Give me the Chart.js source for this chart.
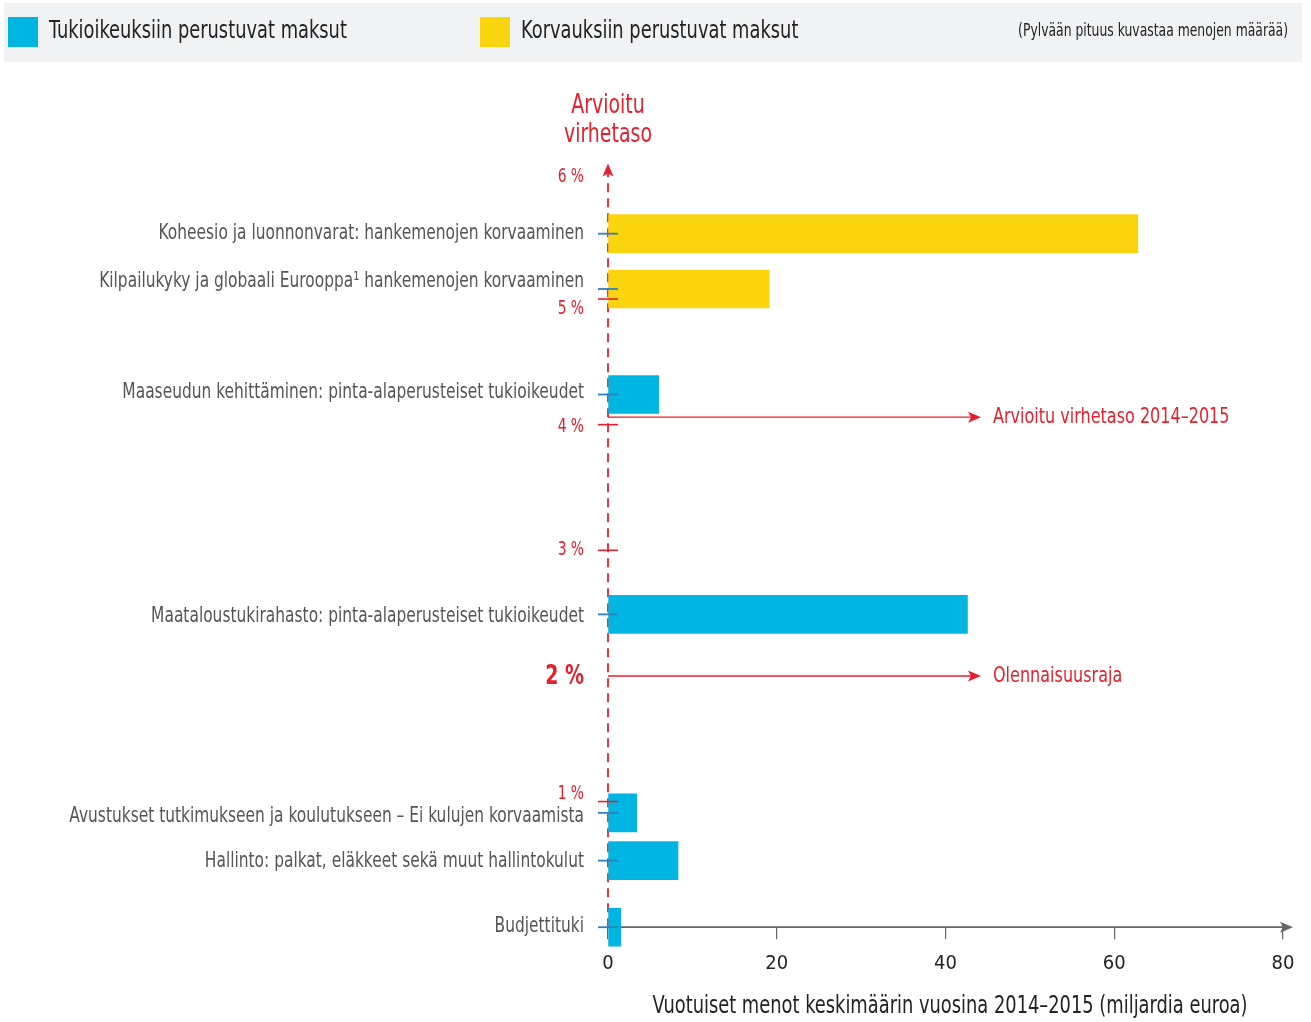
<!DOCTYPE html>
<html>
<head>
<meta charset="utf-8">
<script src="https://cdn.jsdelivr.net/npm/chart.js@4.4.0/dist/chart.umd.min.js"></script>
<style>
  html, body { margin: 0; padding: 0; background: #fff; }
  #wrap { position: relative; width: 1311px; height: 1022px; }
</style>
</head>
<body>
<div id="wrap"><canvas id="chart" width="1311" height="1022"></canvas></div>
<script>
/* DATA */
const categories = [
  "Koheesio ja luonnonvarat: hankemenojen korvaaminen",
  "Kilpailukyky ja globaali Eurooppa¹ hankemenojen korvaaminen",
  "Maaseudun kehittäminen: pinta-alaperusteiset tukioikeudet",
  "Maataloustukirahasto: pinta-alaperusteiset tukioikeudet",
  "Avustukset tutkimukseen ja koulutukseen – Ei kulujen korvaamista",
  "Hallinto: palkat, eläkkeet sekä muut hallintokulut",
  "Budjettituki"
];
const spending = [62.8, 19.1, 6.0, 42.6, 3.4, 8.3, 1.5];   // mrd euroa / vuosi
const errorRate = [5.52, 5.08, 4.24, 2.49, 0.91, 0.53, 0]; // %
const paymentType = ["korvaus", "korvaus", "tuki", "tuki", "tuki", "tuki", "tuki"];
const legendLabels = ["Tukioikeuksiin perustuvat maksut", "Korvauksiin perustuvat maksut"];
const percentTicks = [6, 5, 4, 3, 2, 1];
const xTicks = [0, 20, 40, 60, 80];
const estimatedRate = 4.06;   // arvioitu virhetaso 2014–2015
const materialityRate = 2;    // olennaisuusraja

/* STYLE */
const FONT = '"DejaVu Sans Condensed", "DejaVu Sans", sans-serif';
const SX = 0.81; // squeeze text horizontally to look like a condensed face
const BLUE = "#00b5e2";
const YELLOW = "#f9d40f";
const RED = "#e5202e";
const TICKBLUE = "#2f7fc1";
const GREY = "#555";
// small vertical nudges so labels don't collide (pixels)
const labelNudge = [0, -7, -2, 2, 4, 1, -1];
const percentNudge = { 6: 4, 5: 10, 4: 2, 3: 0, 2: 1, 1: -8 };

function text(ctx, str, x, y, size, color, align, bold){
  ctx.save();
  ctx.font = (bold ? "bold " : "") + size + "px " + FONT;
  ctx.fillStyle = color;
  ctx.textAlign = align || "left";
  ctx.textBaseline = "middle";
  ctx.translate(x, y);
  ctx.scale(SX, 1);
  ctx.fillText(str, 0, 0);
  ctx.restore();
}

function arrowHead(ctx, x, y, dir, color){
  ctx.save();
  ctx.fillStyle = color;
  ctx.beginPath();
  if(dir === "right"){
    ctx.moveTo(x, y); ctx.lineTo(x - 13, y - 5.5); ctx.lineTo(x - 10, y); ctx.lineTo(x - 13, y + 5.5);
  } else {
    ctx.moveTo(x, y); ctx.lineTo(x - 5.5, y + 13); ctx.lineTo(x, y + 10); ctx.lineTo(x + 5.5, y + 13);
  }
  ctx.closePath();
  ctx.fill();
  ctx.restore();
}

const decor = {
  id: "decor",
  beforeDraw(chart){
    const ctx = chart.ctx;
    // legend band
    ctx.save();
    ctx.fillStyle = "#f1f2f4";
    ctx.fillRect(4, 3, 1298, 59);
    ctx.fillStyle = BLUE;  ctx.fillRect(8, 17, 30, 30);
    ctx.fillStyle = YELLOW; ctx.fillRect(480, 17, 30, 30);
    ctx.restore();
    text(ctx, legendLabels[0], 49, 32, 24.5, "#222");
    text(ctx, legendLabels[1], 521, 32, 24.5, "#222");
    text(ctx, "(Pylvään pituus kuvastaa menojen määrää)", 1288, 32, 17, "#222", "right");
    // y title
    const x0 = chart.scales.x.getPixelForValue(0);
    text(ctx, "Arvioitu", x0, 106, 26, RED, "center");
    text(ctx, "virhetaso", x0, 135, 26, RED, "center");
  },
  beforeDatasetsDraw(chart){
    const ctx = chart.ctx, xs = chart.scales.x, ys = chart.scales.y;
    const x0 = xs.getPixelForValue(0), y0 = ys.getPixelForValue(0);
    const top = ys.getPixelForValue(6) - 10;
    ctx.save();
    // red dashed error-rate axis
    ctx.strokeStyle = RED; ctx.lineWidth = 1.8; ctx.setLineDash([9, 6]);
    ctx.beginPath(); ctx.moveTo(x0, y0); ctx.lineTo(x0, top + 8); ctx.stroke();
    ctx.setLineDash([]);
    arrowHead(ctx, x0, top, "up", RED);
    // grey spending axis
    const xEnd = xs.getPixelForValue(80) + 10;
    ctx.strokeStyle = "#666"; ctx.lineWidth = 1.8;
    ctx.beginPath(); ctx.moveTo(x0, y0); ctx.lineTo(xEnd - 6, y0); ctx.stroke();
    arrowHead(ctx, xEnd, y0, "right", "#666");
    ctx.restore();
  },
  afterDatasetsDraw(chart){
    const ctx = chart.ctx, xs = chart.scales.x, ys = chart.scales.y;
    const x0 = xs.getPixelForValue(0);
    ctx.save();
    // red percent ticks
    ctx.strokeStyle = RED; ctx.lineWidth = 1.6;
    percentTicks.forEach(p => {
      if(p === 6 || p === materialityRate) return;
      const y = ys.getPixelForValue(p);
      ctx.beginPath(); ctx.moveTo(x0 - 10, y); ctx.lineTo(x0 + 10, y); ctx.stroke();
    });
    // blue ticks at bar positions
    ctx.strokeStyle = TICKBLUE; ctx.lineWidth = 1.8;
    errorRate.forEach(r => {
      const y = ys.getPixelForValue(r);
      ctx.beginPath(); ctx.moveTo(x0 - 10, y); ctx.lineTo(x0 + 10, y); ctx.stroke();
    });
    ctx.restore();

    // percent labels
    percentTicks.forEach(p => {
      const y = ys.getPixelForValue(p) + percentNudge[p];
      if(p === materialityRate) text(ctx, p + " %", 584, y, 26, RED, "right", true);
      else text(ctx, p + " %", 584, y, 19, RED, "right");
    });

    // category labels
    categories.forEach((c, i) => {
      text(ctx, c, 584, ys.getPixelForValue(errorRate[i]) + labelNudge[i], 21.2, GREY, "right");
    });

    // reference arrows
    const xArrow = 981;
    [[estimatedRate, "Arvioitu virhetaso 2014–2015"], [materialityRate, "Olennaisuusraja"]].forEach(([v, lab]) => {
      const y = ys.getPixelForValue(v);
      ctx.save();
      ctx.strokeStyle = RED; ctx.lineWidth = 1.4;
      ctx.beginPath(); ctx.moveTo(x0, y); ctx.lineTo(xArrow - 8, y); ctx.stroke();
      arrowHead(ctx, xArrow, y, "right", RED);
      ctx.restore();
      text(ctx, lab, xArrow + 12, y, 22, RED, "left");
    });

    // x axis title
    text(ctx, "Vuotuiset menot keskimäärin vuosina 2014–2015 (miljardia euroa)", 950, 1007, 24.5, "#222", "center");
  }
};

const ctx = document.getElementById("chart").getContext("2d");
const chart = new Chart(ctx, {
  type: "bar",
  data: {
    datasets: [{
      data: categories.map((c, i) => ({ x: spending[i], y: errorRate[i] })),
      backgroundColor: paymentType.map(t => t === "tuki" ? BLUE : YELLOW),
      barThickness: 38,
      borderWidth: 0,
      clip: false
    }]
  },
  options: {
    indexAxis: "y",
    responsive: false,
    animation: false,
    devicePixelRatio: 1,
    layout: { padding: { left: 608, right: 28, top: 173.4, bottom: 32.8 } },
    plugins: { legend: { display: false }, tooltip: { enabled: false } },
    scales: {
      x: {
        type: "linear", min: 0, max: 80, offset: false,
        afterBuildTicks: s => { s.ticks = xTicks.map(v => ({ value: v })); },
        grid: { drawOnChartArea: false, drawTicks: true, tickLength: 12, color: "#666", lineWidth: 1.2 },
        border: { display: false },
        ticks: { font: { family: FONT, size: 20 }, color: "#222", padding: 13 }
      },
      y: { type: "linear", min: 0, max: 6, offset: false, display: false }
    }
  },
  plugins: [decor]
});
</script>
</body>
</html>
